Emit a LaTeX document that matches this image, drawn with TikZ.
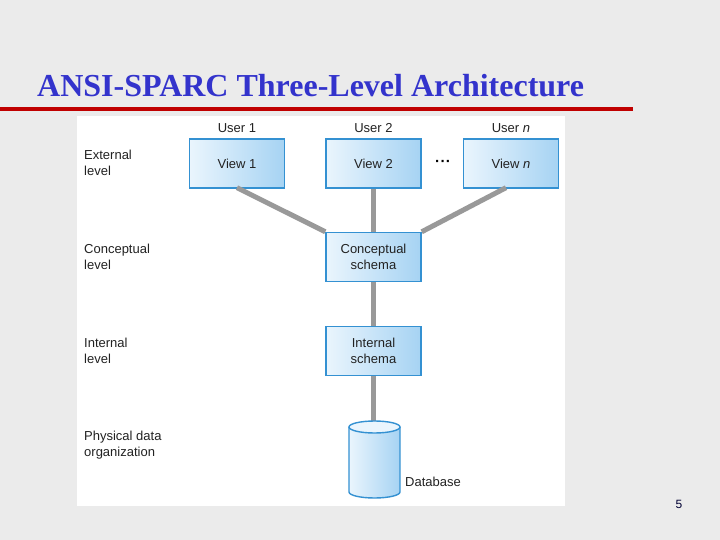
\documentclass[tikz,border=0pt]{standalone}
\usepackage{fontspec}
\setmainfont{Liberation Serif}
\setsansfont{Liberation Sans}
\definecolor{bg}{HTML}{EBEBEB}
\definecolor{titleblue}{HTML}{3333CC}
\definecolor{rulered}{HTML}{C00000}
\definecolor{boxedge}{HTML}{3491D2}
\definecolor{boxlight}{HTML}{EAF5FD}
\definecolor{boxdark}{HTML}{A6D3F3}
\definecolor{conn}{HTML}{999999}
\definecolor{txt}{HTML}{222222}
\tikzset{
  schemabox/.style={draw=boxedge, line width=1.4pt, left color=boxlight, right color=boxdark,
    minimum width=95pt, minimum height=49pt, inner sep=0pt, align=center,
    font=\sffamily\fontsize{13}{15.5}\selectfont, text=txt},
  lvl/.style={anchor=west, align=left, font=\sffamily\fontsize{13}{16}\selectfont, text=txt, inner sep=0pt},
  usr/.style={font=\sffamily\fontsize{13}{15}\selectfont, text=txt, inner sep=0pt},
  link/.style={draw=conn, line width=5pt}
}
\begin{document}
\begin{tikzpicture}[x=1pt,y=-1pt]
\useasboundingbox (0,0) rectangle (720,540);
\fill[bg] (0,0) rectangle (720,540);
\fill[white] (77,116) rectangle (565,506);
% title
\node[anchor=base west, inner sep=0pt, text=titleblue, font=\bfseries\fontsize{32}{35}\selectfont] (title) at (37,97) {ANSI-SPARC Three-Level Architecture};
\fill[rulered] (0,107) rectangle (633,111);
% level labels
\node[lvl] (ext) at (84,163) {External\\level};
\node[lvl] (con) at (84,257) {Conceptual\\level};
\node[lvl] (int) at (84,351) {Internal\\level};
\node[lvl] (phy) at (84,445) {Physical data\\organization};
% boxes
\node[schemabox] (v1) at (237,163.5) {View 1};
\node[schemabox] (v2) at (373.5,163.5) {View 2};
\node[schemabox] (vn) at (511,163.5) {View \textit{n}};
\node[schemabox] (cs) at (373.5,257) {Conceptual\\schema};
\node[schemabox] (is) at (373.5,351) {Internal\\schema};
% users
\node[usr] (u1) at (237,128) {User 1};
\node[usr] (u2) at (373.5,128) {User 2};
\node[usr] (un) at (511,128) {User \textit{n}};
\node[inner sep=0pt, text=black, font=\sffamily\bfseries\fontsize{15}{15}\selectfont] (dots) at (443,163) {·\kern0.5pt·\kern0.5pt·};
% database anchor
\coordinate (dbtop) at (373.5,422);
% connectors
\draw[link] (v1.south) ++(0,-1) -- (cs.north west);
\draw[link] (v2.south) -- (cs.north);
\draw[link] (vn.south) ++(-5,-1) -- (cs.north east);
\draw[link] (cs.south) -- (is.north);
\draw[link] (is.south) -- (dbtop);
% cylinder body
\shade[left color=boxlight, right color=boxdark]
  (349,427) -- (349,492) arc[start angle=180, end angle=0, x radius=25.5, y radius=6] -- (400,427) arc[start angle=0, end angle=-180, x radius=25.5, y radius=6] -- cycle;
\draw[boxedge, line width=1.4pt]
  (349,427) -- (349,492) arc[start angle=180, end angle=0, x radius=25.5, y radius=6] -- (400,427);
\draw[boxedge, line width=1.4pt, fill=boxlight] (374.5,427) ellipse[x radius=25.5, y radius=6];
\node[usr, anchor=west] (db) at (405,482) {Database};
% page number
\node[inner sep=0pt, font=\sffamily\fontsize{12}{14}\selectfont, text=black!80!blue] (pg) at (679,504) {5};
\end{tikzpicture}
\end{document}
